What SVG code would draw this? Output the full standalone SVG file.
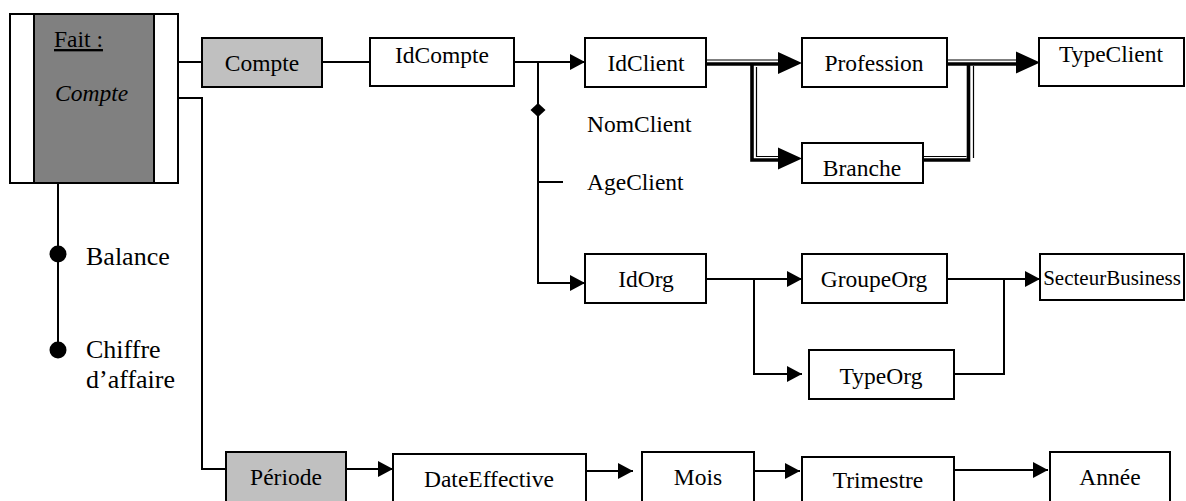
<svg xmlns="http://www.w3.org/2000/svg" width="1186" height="501" viewBox="0 0 1186 501">
  <style>
    .box { fill: #ffffff; stroke: #000000; stroke-width: 2; }
    .dim { fill: #c0c0c0; stroke: #000000; stroke-width: 2; }
    .fact { fill: #808080; stroke: #000000; stroke-width: 2; }
    .lbl { font-family: "Liberation Serif", "Times New Roman", serif; font-size: 23.5px; fill: #000000; }
    .big { font-size: 26px; }
    .small { font-size: 21px; }
    .ln { fill: none; stroke: #000000; stroke-width: 2; }
    .thick { fill: none; stroke: #000000; stroke-width: 3.6; }
    .thin { fill: none; stroke: #000000; stroke-width: 1.2; }
    .head { fill: #000000; stroke: none; }
  </style>
  <defs>
    <marker id="arr" markerUnits="userSpaceOnUse" markerWidth="16" markerHeight="16" refX="15" refY="8" orient="auto">
      <path d="M0,0 L15,8 L0,16 Z" fill="#000000"/>
    </marker>
    <polygon id="bighead" points="-24,-11 0,0 -24,11"/>
  </defs>

  <rect width="1186" height="501" fill="#ffffff"/>

  <!-- connectors -->
  <g id="connectors">
    <!-- fact to Compte dimension -->
    <line class="ln" x1="178" y1="62" x2="202" y2="62"/>
    <!-- fact to Période dimension -->
    <polyline class="ln" points="178,98 202,98 202,469 226,469"/>
    <!-- measures -->
    <line class="ln" x1="58" y1="183" x2="58" y2="350"/>
    <circle cx="58" cy="254" r="8.5" fill="#000000"/>
    <circle cx="58" cy="350" r="8.5" fill="#000000"/>

    <!-- Compte to IdCompte -->
    <line class="ln" x1="322" y1="62" x2="370" y2="62"/>
    <!-- IdCompte to IdClient -->
    <line class="ln" x1="514" y1="62" x2="585" y2="62" marker-end="url(#arr)"/>
    <!-- IdCompte to IdOrg, with attributes -->
    <polyline class="ln" points="538,62 538,283 585,283" marker-end="url(#arr)"/>
    <polygon class="head" points="538,103 545.5,110 538,117 530.5,110"/>
    <line class="ln" x1="538" y1="182" x2="563" y2="182"/>

    <!-- IdClient to Profession / Branche (thick-thin double line) -->
    <polyline class="thick" points="706,64 780,64"/>
    <polyline class="thin" points="706,60 780,60"/>
    <polyline class="thick" points="752,64 752,160 780,160"/>
    <polyline class="thin" points="756.5,67 756.5,156.5 780,156.5"/>
    <use href="#bighead" class="head" x="802" y="63"/>
    <use href="#bighead" class="head" x="802" y="158.5"/>

    <!-- Profession / Branche to TypeClient -->
    <polyline class="thick" points="947,64 1020,64"/>
    <polyline class="thin" points="947,60 1020,60"/>
    <polyline class="thick" points="923,160 968.5,160 968.5,64"/>
    <polyline class="thin" points="923,156.5 966.5,156.5"/>
    <polyline class="thin" points="973.5,66 973.5,158"/>
    <use href="#bighead" class="head" x="1040" y="62.5"/>

    <!-- IdOrg to GroupeOrg / TypeOrg -->
    <line class="ln" x1="706" y1="279" x2="802" y2="279" marker-end="url(#arr)"/>
    <polyline class="ln" points="754,279 754,374 802,374" marker-end="url(#arr)"/>
    <!-- GroupeOrg / TypeOrg to SecteurBusiness -->
    <line class="ln" x1="947" y1="279" x2="1040" y2="279" marker-end="url(#arr)"/>
    <polyline class="ln" points="955,374 1004,374 1004,279"/>

    <!-- time hierarchy -->
    <line class="ln" x1="346" y1="469" x2="393" y2="469" marker-end="url(#arr)"/>
    <line class="ln" x1="586" y1="471" x2="633" y2="471" marker-end="url(#arr)"/>
    <line class="ln" x1="754" y1="471" x2="800" y2="471" marker-end="url(#arr)"/>
    <line class="ln" x1="952" y1="470" x2="1048" y2="470" marker-end="url(#arr)"/>
  </g>

  <!-- fact table -->
  <g id="fait-compte">
    <rect class="box" x="10" y="14" width="168" height="169"/>
    <rect class="fact" x="34" y="14" width="120" height="169"/>
    <text class="lbl" x="54" y="47" text-decoration="underline">Fait :</text>
    <text class="lbl" x="55" y="101" font-style="italic">Compte</text>
  </g>
  <g id="balance">
    <text class="lbl big" x="86" y="265">Balance</text>
  </g>
  <g id="chiffre-affaire">
    <text class="lbl big" x="86" y="358">Chiffre</text>
    <text class="lbl big" x="86" y="388">d’affaire</text>
  </g>

  <!-- account dimension -->
  <g id="compte">
    <rect class="dim" x="202" y="38" width="120" height="49"/>
    <text class="lbl" x="262" y="71" text-anchor="middle">Compte</text>
  </g>
  <g id="idcompte">
    <rect class="box" x="370" y="38" width="144" height="48"/>
    <text class="lbl" x="442" y="63" text-anchor="middle">IdCompte</text>
  </g>
  <g id="idclient">
    <rect class="box" x="585" y="38" width="121" height="49"/>
    <text class="lbl" x="646" y="71" text-anchor="middle">IdClient</text>
  </g>
  <g id="nomclient">
    <text class="lbl" x="587" y="132">NomClient</text>
  </g>
  <g id="ageclient">
    <text class="lbl" x="587" y="190">AgeClient</text>
  </g>
  <g id="profession">
    <rect class="box" x="802" y="38" width="145" height="49"/>
    <text class="lbl" x="874" y="71" text-anchor="middle">Profession</text>
  </g>
  <g id="branche">
    <rect class="box" x="802" y="143" width="121" height="40"/>
    <text class="lbl" x="862" y="176" text-anchor="middle">Branche</text>
  </g>
  <g id="typeclient">
    <rect class="box" x="1039" y="38" width="145" height="48"/>
    <text class="lbl" x="1111" y="62" text-anchor="middle">TypeClient</text>
  </g>
  <g id="idorg">
    <rect class="box" x="585" y="254" width="121" height="49"/>
    <text class="lbl" x="646" y="287" text-anchor="middle">IdOrg</text>
  </g>
  <g id="groupeorg">
    <rect class="box" x="802" y="254" width="145" height="49"/>
    <text class="lbl" x="874" y="287" text-anchor="middle">GroupeOrg</text>
  </g>
  <g id="typeorg">
    <rect class="box" x="809" y="350" width="145" height="49"/>
    <text class="lbl" x="881" y="384" text-anchor="middle">TypeOrg</text>
  </g>
  <g id="secteurbusiness">
    <rect class="box" x="1040" y="254" width="144" height="46"/>
    <text class="lbl small" x="1112" y="285" text-anchor="middle">SecteurBusiness</text>
  </g>

  <!-- period dimension -->
  <g id="periode">
    <rect class="dim" x="226" y="452" width="120" height="60"/>
    <text class="lbl" x="286" y="485" text-anchor="middle">Période</text>
  </g>
  <g id="dateeffective">
    <rect class="box" x="393" y="454" width="193" height="60"/>
    <text class="lbl" x="489" y="487" text-anchor="middle">DateEffective</text>
  </g>
  <g id="mois">
    <rect class="box" x="642" y="452" width="112" height="60"/>
    <text class="lbl" x="698" y="485" text-anchor="middle">Mois</text>
  </g>
  <g id="trimestre">
    <rect class="box" x="802" y="457" width="152" height="60"/>
    <text class="lbl" x="878" y="488" text-anchor="middle">Trimestre</text>
  </g>
  <g id="annee">
    <rect class="box" x="1050" y="452" width="120" height="60"/>
    <text class="lbl" x="1110" y="485" text-anchor="middle">Année</text>
  </g>
</svg>
